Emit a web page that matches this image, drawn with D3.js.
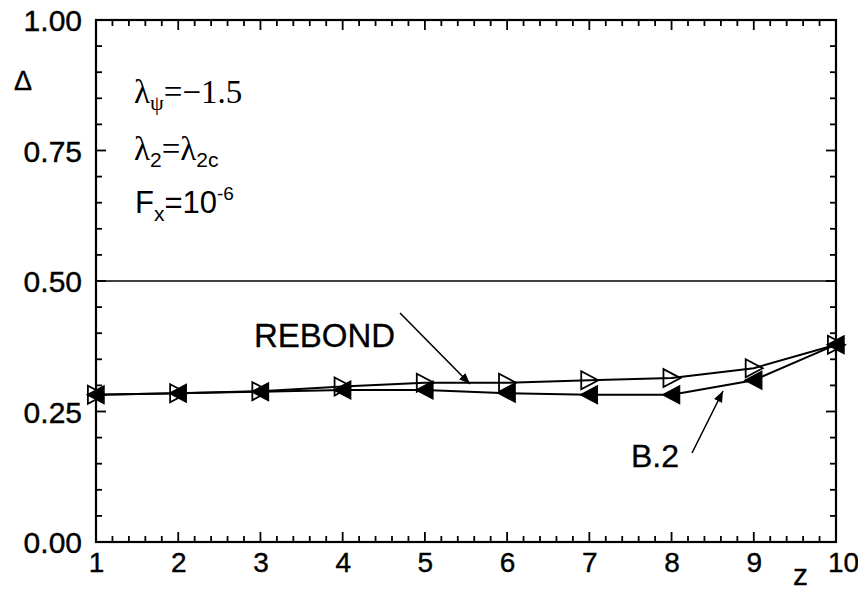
<!DOCTYPE html>
<html><head><meta charset="utf-8">
<script src="https://cdn.jsdelivr.net/npm/d3@7"></script>
<style>body{margin:0;background:#fff}svg{display:block}</style>
</head><body>
<svg id="c" width="858" height="592"></svg>
<script>
const zValues = [1,2,3,4,5,6,7,8,9,10];
const rebond = [0.282,0.285,0.289,0.298,0.305,0.305,0.310,0.314,0.333,0.378];
const b2     = [0.282,0.285,0.288,0.291,0.291,0.285,0.282,0.282,0.310,0.378];
const xTicks = [1,2,3,4,5,6,7,8,9,10];
const yTicks = [0,0.25,0.5,0.75,1.0];
const yTickLabels = ["0.00","0.25","0.50","0.75","1.00"];
const refLine = 0.5;

const svg = d3.select("#c");
const x = d3.scaleLinear().domain([1,10]).range([96,836]);
const y = d3.scaleLinear().domain([0,1]).range([542,20]);
const sans = "Liberation Sans, Arial, Helvetica, sans-serif";
const serif = "Liberation Serif, Times New Roman, serif";

const xMinor = d3.range(1,10.001,0.2).filter(v=>Math.abs(v-Math.round(v))>1e-6);
const yMinor = d3.range(0,1.0001,0.05).filter(v=>Math.abs(v*4-Math.round(v*4))>1e-6);

// tick labels via axes (no lines)
svg.append("g").attr("transform","translate(0,542)")
  .call(d3.axisBottom(x).tickValues(xTicks).tickSize(0).tickPadding(0).tickFormat(d3.format("d")))
  .call(g=>{g.select(".domain").remove(); g.selectAll("line").remove();})
  .call(g=>g.selectAll("text").attr("font-family",sans).attr("font-size",28).attr("fill","#000")
     .attr("stroke","#000").attr("stroke-width",0.4)
     .attr("dy",null).attr("y",30).attr("dx",d=>d===10?7:0));
svg.append("g").attr("transform","translate(96,0)")
  .call(d3.axisLeft(y).tickValues(yTicks).tickSize(0).tickPadding(14).tickFormat((d,i)=>yTickLabels[i]))
  .call(g=>{g.select(".domain").remove(); g.selectAll("line").remove();})
  .call(g=>g.selectAll("text").attr("font-family",sans).attr("font-size",30).attr("fill","#000")
     .attr("stroke","#000").attr("stroke-width",0.4).attr("dy","0.36em"));

// reference line
svg.append("line").attr("x1",x(1)).attr("x2",x(10)).attr("y1",y(refLine)).attr("y2",y(refLine))
  .attr("stroke","#000").attr("stroke-width",1.4);

// lines
const line = d3.line().x((d,i)=>x(zValues[i])).y(d=>y(d));
svg.append("path").datum(rebond).attr("d",line).attr("fill","none").attr("stroke","#000").attr("stroke-width",2);
svg.append("path").datum(b2).attr("d",line).attr("fill","none").attr("stroke","#000").attr("stroke-width",2);

// markers
const s = 9;
svg.append("g").selectAll("path").data(b2).join("path")
  .attr("transform",(d,i)=>`translate(${x(zValues[i])},${y(d)})`)
  .attr("d",`M${-s},0L${s*0.9},${-s}L${s*0.9},${s}Z`)
  .attr("fill","#000").attr("stroke","#000").attr("stroke-width",1.2);
svg.append("g").selectAll("path").data(rebond).join("path")
  .attr("transform",(d,i)=>`translate(${x(zValues[i])},${y(d)})`)
  .attr("d",`M${s},0L${-s*0.9},${-s}L${-s*0.9},${s}Z`)
  .attr("fill","none").attr("stroke","#000").attr("stroke-width",1.8);

// arrows
svg.append("defs").append("marker").attr("id","ah").attr("viewBox","0 0 10 10").attr("refX",10).attr("refY",5)
  .attr("markerWidth",7).attr("markerHeight",7).attr("orient","auto")
  .append("path").attr("d","M0,1L10,5L0,9Z").attr("fill","#000");
svg.append("line").attr("x1",400).attr("y1",313).attr("x2",470).attr("y2",384)
  .attr("stroke","#000").attr("stroke-width",1.6).attr("marker-end","url(#ah)");
svg.append("line").attr("x1",692).attr("y1",453).attr("x2",723).attr("y2",391)
  .attr("stroke","#000").attr("stroke-width",1.6).attr("marker-end","url(#ah)");

// labels
const lab = (xx,yy,txt,fs,anchor)=>svg.append("text").attr("x",xx).attr("y",yy).attr("font-family",sans)
  .attr("font-size",fs).attr("text-anchor",anchor||"start").attr("stroke","#000").attr("stroke-width",0.3).text(txt);
lab(254,347,"REBOND",33);
lab(631,467,"B.2",32);
lab(23,90,"Δ",27,"middle");
lab(793,585,"z",30);

// annotations
const t1 = svg.append("text").attr("x",134).attr("y",103).attr("font-family",serif).attr("font-size",33);
t1.append("tspan").text("λ");
t1.append("tspan").attr("font-size",22).attr("dy",7).text("ψ");
t1.append("tspan").attr("dy",-7).text("=−1.5");

const t2 = svg.append("text").attr("x",134).attr("y",160).attr("font-family",serif).attr("font-size",33);
t2.append("tspan").text("λ");
t2.append("tspan").attr("font-size",21).attr("dy",7).attr("font-family",sans).text("2");
t2.append("tspan").attr("dy",-7).text("=λ");
t2.append("tspan").attr("font-size",21).attr("dy",7).attr("font-family",sans).text("2c");

const t3 = svg.append("text").attr("x",135).attr("y",213).attr("font-family",sans).attr("font-size",31);
t3.append("tspan").text("F");
t3.append("tspan").attr("font-size",21).attr("dy",8).text("x");
t3.append("tspan").attr("dy",-8).text("=10");
t3.append("tspan").attr("font-size",19).attr("dy",-13).text("-6");

// frame
svg.append("rect").attr("x",x(1)).attr("y",y(1)).attr("width",x(10)-x(1)).attr("height",y(0)-y(1))
  .attr("fill","none").attr("stroke","#000").attr("stroke-width",2.2);

// tick marks (inward on all four sides), drawn last
const tickSpecs = [
  {vals:xTicks, len:10, side:"bottom"}, {vals:xMinor, len:6, side:"bottom"},
  {vals:xTicks, len:10, side:"top"},    {vals:xMinor, len:6, side:"top"},
  {vals:yTicks, len:10, side:"left"},   {vals:yMinor, len:6, side:"left"},
  {vals:yTicks, len:10, side:"right"},  {vals:yMinor, len:6, side:"right"}
];
tickSpecs.forEach(sp=>{
  const g = svg.append("g");
  sp.vals.forEach(v=>{
    let x1,x2,y1,y2;
    if(sp.side==="bottom"){x1=x2=x(v); y1=y(0); y2=y(0)-sp.len;}
    else if(sp.side==="top"){x1=x2=x(v); y1=y(1); y2=y(1)+sp.len;}
    else if(sp.side==="left"){y1=y2=y(v); x1=x(1); x2=x(1)+sp.len;}
    else {y1=y2=y(v); x1=x(10); x2=x(10)-sp.len;}
    g.append("line").attr("x1",x1).attr("x2",x2).attr("y1",y1).attr("y2",y2)
      .attr("stroke","#000").attr("stroke-width",1.8);
  });
});
</script>
</body></html>
